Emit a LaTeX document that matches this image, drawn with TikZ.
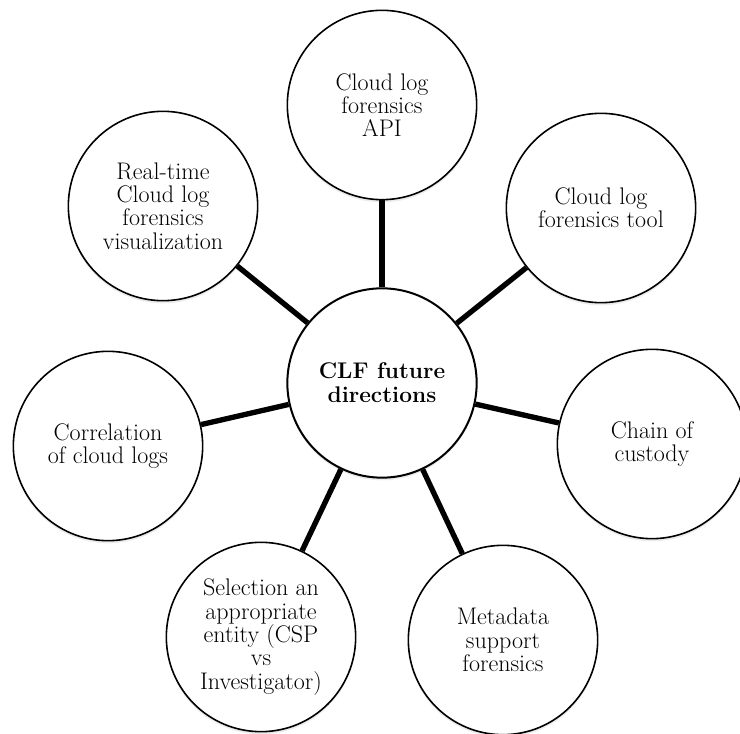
\documentclass[tikz,border=0pt]{standalone}
\usepackage{tikz}
\usetikzlibrary{shadows}

\begin{document}
\begin{tikzpicture}[x=0.75pt, y=-0.75pt,
        main/.style = {draw, circle, fill=white, line width=1.2pt, minimum size=142pt, inner sep=0pt, align=center, font=\fontsize{18}{17.5}\selectfont, drop shadow={opacity=0.15, shadow xshift=0pt, shadow yshift=-2pt}},
        hub/.style = {main, line width=1.5pt, font=\fontsize{17}{18}\selectfont\bfseries},
        link/.style = {line width=4pt}]
        \useasboundingbox (0,0) rectangle (740,734);
        \node[hub] (0) at (382,383) {CLF future\\directions};
        \node[main] (1) at (382,105) {Cloud log\\forensics\\API};
        \node[main] (2) at (601,208) {Cloud log\\forensics tool};
        \node[main] (3) at (652,444) {Chain of\\custody};
        \node[main] (4) at (503,640) {Metadata\\support\\forensics};
        \node[main] (5) at (261,637) {Selection an\\appropriate\\entity (CSP\\vs\\Investigator)};
        \node[main] (6) at (108,446) {Correlation\\of cloud logs};
        \node[main] (7) at (163,206) {Real-time\\Cloud log\\forensics\\visualization};
        \draw[link] (0) -- (1);
        \draw[link] (0) -- (2);
        \draw[link] (0) -- (3);
        \draw[link] (0) -- (4);
        \draw[link] (0) -- (5);
        \draw[link] (0) -- (6);
        \draw[link] (0) -- (7);
    \end{tikzpicture}
\end{document}
